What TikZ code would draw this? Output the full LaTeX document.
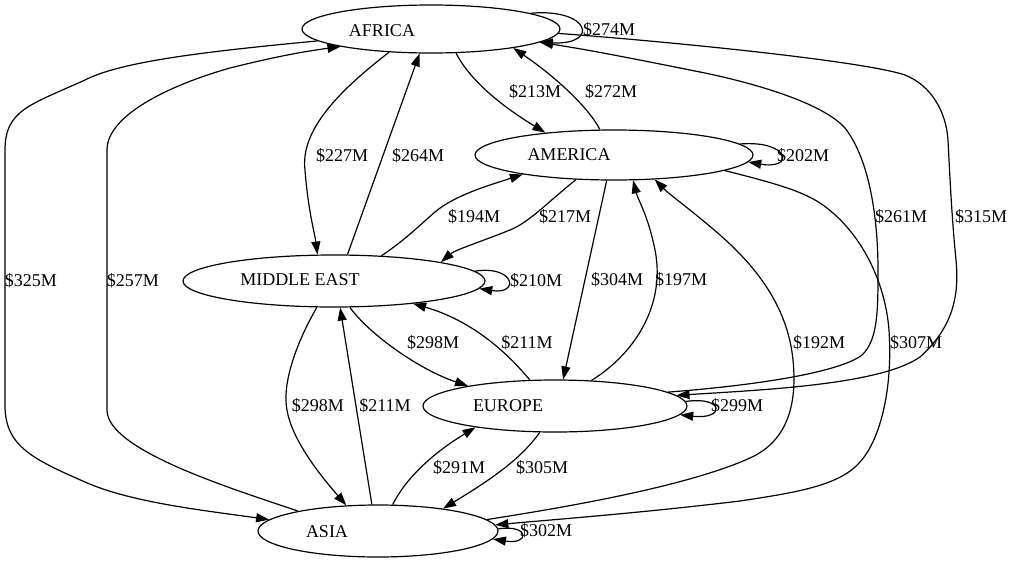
\documentclass[tikz,border=0pt]{standalone}
\usepackage{fontspec}
\setmainfont{Liberation Serif}
\usetikzlibrary{shapes.geometric,arrows.meta}
\begin{document}
\begin{tikzpicture}[x=1pt,y=-1pt,
  ell/.style={draw, ellipse, inner sep=0pt, line width=1.2pt},
  lbl/.style={font=\fontsize{18}{21}\selectfont, inner sep=0pt, text height=12pt, text depth=0pt},
  arr/.style={draw, line width=1.2pt, -{Triangle[length=13pt,width=9pt]}}]
\path[use as bounding box] (0,0) rectangle (1013,563);
% nodes
\node[ell, minimum width=258pt, minimum height=48pt] (af) at (431,29) {};
\node[ell, minimum width=278pt, minimum height=50pt] (am) at (614,155) {};
\node[ell, minimum width=302pt, minimum height=52pt] (me) at (334,281) {};
\node[ell, minimum width=264pt, minimum height=52pt] (eu) at (555,406) {};
\node[ell, minimum width=240pt, minimum height=52pt] (as) at (378,531) {};
\node[lbl] (taf) at (382,30) {AFRICA};
\node[lbl] (tam) at (569,154) {AMERICA};
\node[lbl] (tme) at (300,279) {MIDDLE EAST};
\node[lbl] (teu) at (508,405) {EUROPE};
\node[lbl] (tas) at (327,531) {ASIA};
% self loops
\path[arr] (af.9) .. controls (590,8) and (600,45) .. (af.353);
\path[arr] (am.5) .. controls (790,140) and (795,170) .. (am.357);
\path[arr] (me.4.7) .. controls (515,265) and (520,295) .. (me.357);
\path[arr] (eu.2) .. controls (725,396) and (725,420) .. (eu.356);
\path[arr] (as.1) .. controls (530,524) and (530,545) .. (as.356);
% africa <-> america
\path[arr] (af.316) .. controls (470,80) and (500,105) .. (am.162);
\path[arr] (am.119) .. controls (590,110) and (560,80) .. (af.347);
% africa <-> middle east
\path[arr] (af.209) .. controls (340,90) and (300,130) .. (305,170) .. controls (308,210) and (315,235) .. (me.122);
\path[arr] (me.63) -- (af.245);
% middle east <-> america
\path[arr] (me.28.5) .. controls (405,240) and (420,225) .. (435,212) .. controls (455,195) and (490,185) .. (am.192);
\path[arr] (am.213) .. controls (550,200) and (530,222) .. (510,230) .. controls (480,242) and (455,250) .. (me.10);
% america <-> europe
\path[arr] (am.254) -- (eu.73);
\path[arr] (eu.35.5) .. controls (640,350) and (665,300) .. (655,250) .. controls (648,215) and (638,200) .. (am.307);
% middle east <-> europe
\path[arr] (me.301.6) .. controls (370,335) and (420,370) .. (eu.167.6);
\path[arr] (eu.134) .. controls (505,350) and (470,320) .. (me.344);
% middle east <-> asia
\path[arr] (me.237) .. controls (295,345) and (282,385) .. (287,410) .. controls (292,440) and (320,475) .. (as.141);
\path[arr] (as.103) -- (me.283);
% asia <-> europe
\path[arr] (as.61.7) .. controls (405,480) and (430,455) .. (eu.195);
\path[arr] (eu.240) .. controls (520,460) and (490,480) .. (as.19.8);
% africa <-> asia
\path[arr] (af.186) .. controls (200,52) and (120,62) .. (85,80) .. controls (30,105) and (5,110) .. (5,150) -- (5,405) .. controls (5,445) and (30,458) .. (85,482) .. controls (130,502) and (200,510) .. (as.174);
\path[arr] (as.166) .. controls (230,488) and (107,450) .. (107,410) -- (107,150) .. controls (107,115) and (170,85) .. (230,68) .. controls (270,58) and (300,52) .. (af.191);
% asia <-> america
\path[arr] (as.6.3) .. controls (580,505) and (690,485) .. (750,458) .. controls (790,440) and (797,400) .. (793,360) .. controls (788,310) and (760,270) .. (720,235) .. controls (695,213) and (670,195) .. (am.329.5);
\path[arr] (am.352) .. controls (770,182) and (800,190) .. (820,203) .. controls (860,230) and (885,280) .. (889,330) .. controls (893,390) and (880,440) .. (860,462) .. controls (840,485) and (800,492) .. (740,501) .. controls (640,513) and (560,519) .. (as.3.5);
% europe <-> africa
\path[arr] (eu.7) .. controls (760,385) and (840,372) .. (862,355) .. controls (878,340) and (878,310) .. (878,270) .. controls (878,220) and (870,160) .. (845,128) .. controls (820,100) and (740,80) .. (700,72) .. controls (640,60) and (590,50) .. (af.353);
\path[arr] (af.358) .. controls (650,40) and (860,60) .. (905,75) .. controls (930,85) and (946,110) .. (948,140) .. controls (950,180) and (952,220) .. (956,260) .. controls (960,300) and (950,330) .. (920,357) .. controls (880,385) and (760,390) .. (eu.5);
% labels
\node[lbl] (l1) at (609,29) {\$274M};
\node[lbl] (l2) at (535,91) {\$213M};
\node[lbl] (l3) at (611,91) {\$272M};
\node[lbl] (l4) at (342,155) {\$227M};
\node[lbl] (l5) at (418,155) {\$264M};
\node[lbl] (l6) at (803,155) {\$202M};
\node[lbl] (l7) at (474,216) {\$194M};
\node[lbl] (l8) at (565,216) {\$217M};
\node[lbl] (l9) at (901,216) {\$261M};
\node[lbl] (l10) at (981,216) {\$315M};
\node[lbl] (l11) at (31,280) {\$325M};
\node[lbl] (l12) at (133,280) {\$257M};
\node[lbl] (l13) at (536,280) {\$210M};
\node[lbl] (l14) at (617,279) {\$304M};
\node[lbl] (l15) at (681,279) {\$197M};
\node[lbl] (l16) at (433,342) {\$298M};
\node[lbl] (l17) at (527,342) {\$211M};
\node[lbl] (l18) at (819,342) {\$192M};
\node[lbl] (l19) at (916,342) {\$307M};
\node[lbl] (l20) at (318,405) {\$298M};
\node[lbl] (l21) at (385,405) {\$211M};
\node[lbl] (l22) at (737,405) {\$299M};
\node[lbl] (l23) at (459,467) {\$291M};
\node[lbl] (l24) at (542,467) {\$305M};
\node[lbl] (l25) at (546,530) {\$302M};
\end{tikzpicture}
\end{document}
